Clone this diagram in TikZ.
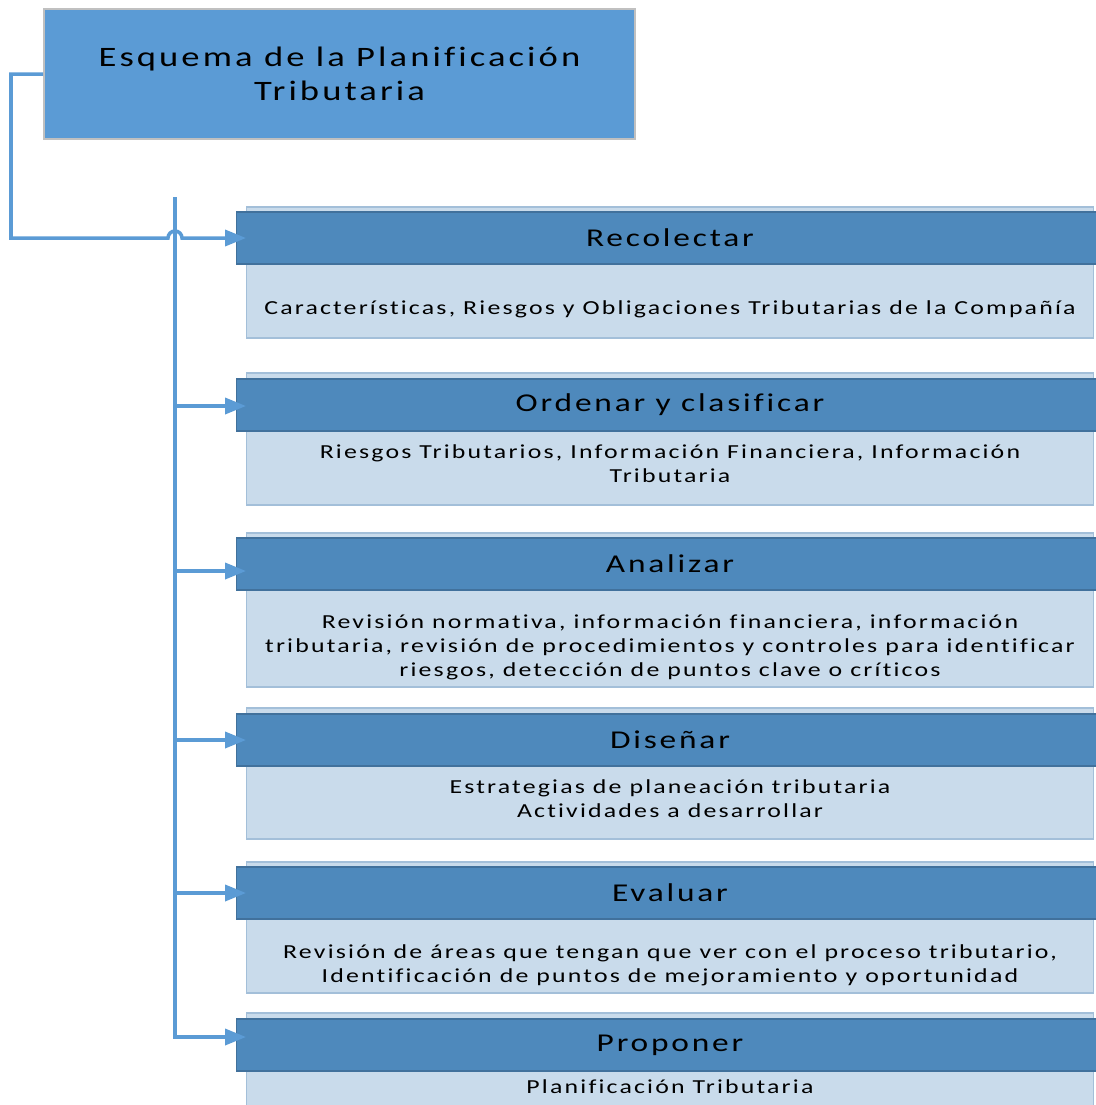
\documentclass[tikz,border=0pt]{standalone}
\usepackage{fontspec}
\setmainfont{Carlito}[LetterSpace=11, FakeStretch=1.3, Ligatures={NoCommon}]
\usetikzlibrary{arrows.meta}

\definecolor{azultitulo}{HTML}{5B9BD5}
\definecolor{grisborde}{HTML}{C0C0C0}
\definecolor{azuloscuro}{HTML}{4E89BC}
\definecolor{bordeoscuro}{HTML}{41719C}
\definecolor{azulclaro}{HTML}{C9DBEB}
\definecolor{bordeclaro}{HTML}{A3BFD9}
\definecolor{azullinea}{HTML}{5B9BD5}

\begin{document}
\begin{tikzpicture}[x=0.01cm,y=-0.01cm,
  titulo/.style={draw=grisborde, fill=azultitulo, minimum width=5.91cm, minimum height=1.3cm,
    align=center, inner sep=0pt, font=\fontsize{8}{9.7}\selectfont},
  fondo/.style={draw=bordeclaro, fill=azulclaro, minimum width=8.46cm, inner sep=0pt},
  cabecera/.style={draw=bordeoscuro, fill=azuloscuro, minimum width=8.66cm, minimum height=0.52cm,
    inner sep=0pt, font=\fontsize{7.3}{8}\selectfont},
  texto/.style={align=center, inner sep=0pt, font=\fontsize{5.65}{6.8}\selectfont},
  linea/.style={draw=azullinea, line width=1pt},
  flecha/.style={linea, -{Triangle[length=0.21cm,width=0.16cm]}, shorten >=-0.1cm}]
\useasboundingbox (0,0) rectangle (1096,1105);

\node[titulo] (esquema) at (339.5,74) {Esquema de la Planificación\\Tributaria};

% pasos
\node[fondo, minimum height=1.31cm] (recolectarfondo) at (670,272.5) {};
\node[cabecera] (recolectar) at (670,238) {Recolectar};
\node[texto] (recolectartxt) at (670,309) {Características, Riesgos y Obligaciones Tributarias de la Compañía};

\node[fondo, minimum height=1.32cm] (ordenarfondo) at (670,439) {};
\node[cabecera] (ordenar) at (670,405) {Ordenar y clasificar};
\node[texto] (ordenartxt) at (670,464) {Riesgos Tributarios, Información Financiera, Información\\Tributaria};

\node[fondo, minimum height=1.54cm] (analizarfondo) at (670,610) {};
\node[cabecera] (analizar) at (670,564) {Analizar};
\node[texto] (analizartxt) at (670,647) {Revisión normativa, información financiera, información\\tributaria, revisión de procedimientos y controles para identificar\\riesgos, detección de puntos clave o críticos};

\node[fondo, minimum height=1.31cm] (disenarfondo) at (670,773.5) {};
\node[cabecera] (disenar) at (670,740) {Diseñar};
\node[texto] (disenartxt) at (670,799) {Estrategias de planeación tributaria\\Actividades a desarrollar};

\node[fondo, minimum height=1.31cm] (evaluarfondo) at (670,927.5) {};
\node[cabecera] (evaluar) at (670,893) {Evaluar};
\node[texto] (evaluartxt) at (670,965) {Revisión de áreas que tengan que ver con el proceso tributario,\\Identificación de puntos de mejoramiento y oportunidad};

\node[fondo, minimum height=1.07cm] (proponerfondo) at (670,1066.5) {};
\node[cabecera] (proponer) at (670,1045) {Proponer};
\node[texto] (proponertxt) at (670,1087) {Planificación Tributaria};

% conectores
\coordinate (codo) at (11,238);
\coordinate (salto) at (175,238);
\coordinate (arriba) at (175,197);
\coordinate (r2) at (175,406);
\coordinate (r3) at (175,571);
\coordinate (r4) at (175,740);
\coordinate (r5) at (175,893);
\coordinate (r6) at (175,1037);

\draw[flecha] (esquema.west) -| (codo) -- ([xshift=-0.07cm]salto)
  arc[start angle=180, end angle=0, radius=0.07cm] -- (salto -| recolectar.west);
\draw[flecha] (arriba) -- (r6) -- (r6 -| proponer.west);
\foreach \r/\n in {r2/ordenar, r3/analizar, r4/disenar, r5/evaluar}
  \draw[flecha] (\r) -- (\r -| \n.west);
\end{tikzpicture}
\end{document}
